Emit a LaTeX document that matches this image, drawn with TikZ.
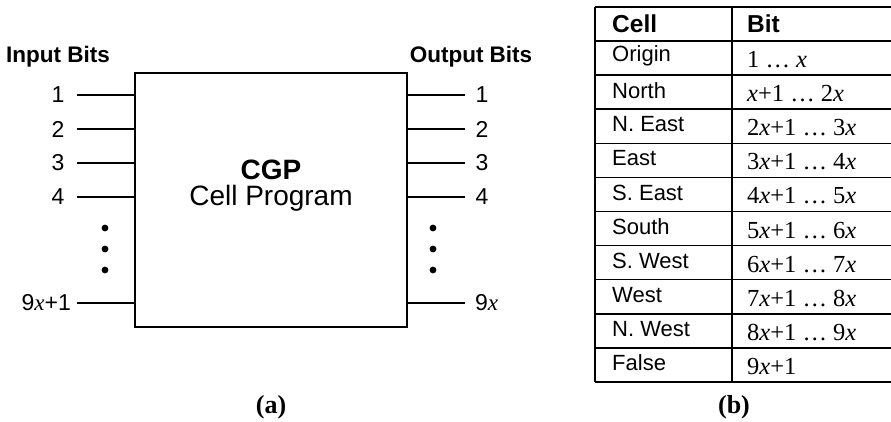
\documentclass[tikz,border=0pt]{standalone}
\usepackage{fontspec}
\setmainfont{Liberation Sans}
\newfontfamily\serifface{Liberation Serif}
\usetikzlibrary{positioning}
% italic serif x used in the bit numbers
\newcommand{\bx}{{\serifface\itshape x}}
\tikzset{
  every picture/.style={line join=miter, line cap=butt},
  bitline/.style={line width=1.7pt},
  bitlabel/.style={inner sep=0pt, font=\fontsize{23}{26}\selectfont},
  headlabel/.style={inner sep=0pt, font=\fontsize{22.5}{26}\selectfont\bfseries},
  bitdot/.style={fill=black, draw=none},
  tabline/.style={line width=1.5pt},
  celltext/.style={anchor=west, inner sep=0pt, font=\fontsize{22}{25}\selectfont},
  bittext/.style={anchor=west, inner sep=0pt, font=\fontsize{24.5}{28}\serifface},
  subcap/.style={inner sep=0pt, font=\fontsize{26}{30}\serifface\bfseries},
}

\begin{document}
\begin{tikzpicture}[x=1pt, y=-1pt]
\useasboundingbox (0,0) rectangle (891,421);

% (a) the cell program block
\node[draw, line width=2pt, minimum width=272pt, minimum height=254pt, inner sep=0pt] (cgp) at (271,200) {};
\node[headlabel, font=\fontsize{28}{32}\selectfont\bfseries] (cgpname) at (271,170) {CGP};
\node[bitlabel, font=\fontsize{28}{32}\selectfont] (cgpsub) at (271,198) {Cell Program};

\node[headlabel] (inhead) at (58,57) {Input Bits};
\node[headlabel] (outhead) at (471,57) {Output Bits};

\foreach \n/\y in {1/95,2/129,3/163,4/197}{
  \coordinate (in\n) at (77,\y);
  \draw[bitline] (in\n) -- (in\n -| cgp.west);
  \node[bitlabel] (inlab\n) at (58,\y) {\n};
  \coordinate (out\n) at (465,\y);
  \draw[bitline] (out\n -| cgp.east) -- (out\n);
  \node[bitlabel] (outlab\n) at (482,\y) {\n};
}
\coordinate (inlast) at (77,303);
\draw[bitline] (inlast) -- (inlast -| cgp.west);
\node[bitlabel, anchor=east] (inlablast) at (71,303) {9\bx+1};
\coordinate (outlast) at (465,303);
\draw[bitline] (outlast -| cgp.east) -- (outlast);
\node[bitlabel, anchor=west] (outlablast) at (475,303) {9\bx};

\foreach \y in {228,249,270}{
  \fill[bitdot] (105,\y) circle (3.4pt);
  \fill[bitdot] (433,\y) circle (3.4pt);
}

\node[subcap] (capa) at (271,407) {(a)};

% (b) neighbour to bit table
\draw[tabline] (595,7) -- (891,7);
\foreach \i in {0,...,10}{
  \draw[tabline] (595,41+34.1*\i) -- (891,41+34.1*\i);
}
\draw[tabline] (595,7) -- (595,382);
\draw[tabline] (732,7) -- (732,382);

\node[celltext, font=\fontsize{24.5}{28}\selectfont\bfseries] (cellhead) at (612,24) {Cell};
\node[celltext, font=\fontsize{24.5}{28}\selectfont\bfseries] (bithead) at (747,24) {Bit};

\foreach \name/\bits [count=\r] in {
  Origin/{1 \ldots\ \bx},
  North/{\bx+1 \ldots\ 2\bx},
  N. East/{2\bx+1 \ldots\ 3\bx},
  East/{3\bx+1 \ldots\ 4\bx},
  S. East/{4\bx+1 \ldots\ 5\bx},
  South/{5\bx+1 \ldots\ 6\bx},
  S. West/{6\bx+1 \ldots\ 7\bx},
  West/{7\bx+1 \ldots\ 8\bx},
  N. West/{8\bx+1 \ldots\ 9\bx},
  False/{9\bx+1}}{
  \node[celltext] (cell\r) at (612,41+34.1*\r-19) {\name};
  \node[bittext] (bit\r) at (747,41+34.1*\r-15.5) {\bits};
}

\node[subcap] (capb) at (734,407) {(b)};
\end{tikzpicture}
\end{document}
